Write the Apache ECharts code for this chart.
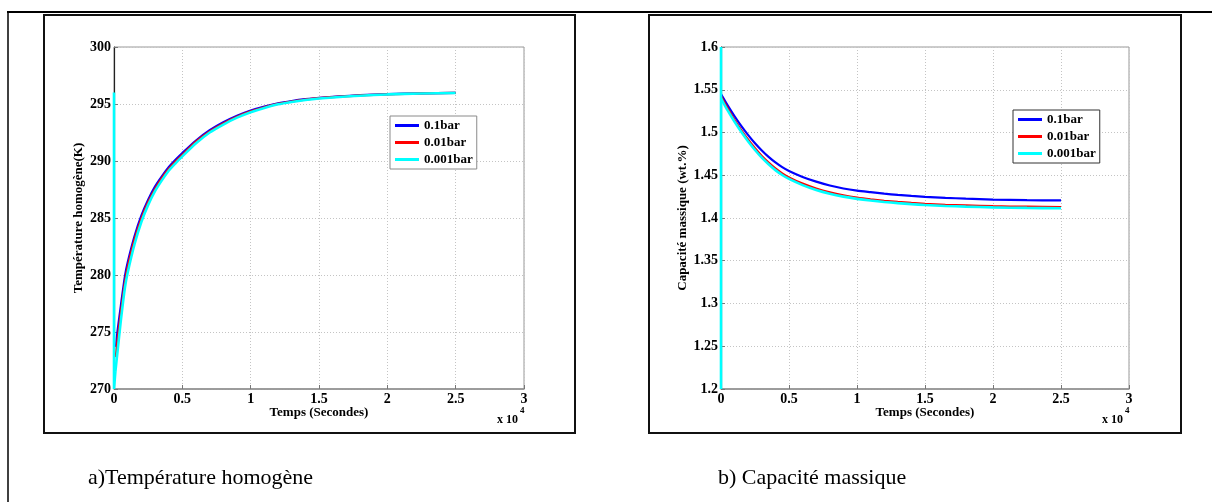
<!DOCTYPE html>
<html><head><meta charset="utf-8">
<script src="https://cdn.jsdelivr.net/npm/echarts@6/dist/echarts.min.js"></script>
<style>html,body{margin:0;padding:0;background:#fff}#c{width:1212px;height:502px}</style>
</head><body><div id="c"></div>
<script>
// ---------- data ----------
const seriesNames = ['0.1bar', '0.01bar', '0.001bar'];
const seriesColors = ['#0000ff', '#ff0000', '#00ffff'];
const xTickLabels = ['0', '0.5', '1', '1.5', '2', '2.5', '3'];          // x 10^4 s
const tempTickLabels = ['270', '275', '280', '285', '290', '295', '300'];
const capTickLabels = ['1.2', '1.25', '1.3', '1.35', '1.4', '1.45', '1.5', '1.55', '1.6'];

// Température homogène (K)
const tempTime01  = [150, 250, 500, 800, 1000, 1500, 2000, 2500, 3000, 3500, 4000, 4500, 5000, 6000, 7000, 8000, 9000, 10000, 11000, 12000, 13000, 14000, 15000, 16500, 18000, 20000, 22500, 25000];
const tempValue01 = [273.7, 275.0, 277.3, 279.9, 281.1, 283.4, 285.2, 286.6, 287.75, 288.65, 289.45, 290.1, 290.7, 291.8, 292.7, 293.4, 293.97, 294.43, 294.78, 295.06, 295.26, 295.42, 295.54, 295.67, 295.77, 295.87, 295.94, 295.98];
const tempTime001  = [130, 250, 500, 800, 1000, 1500, 2000, 2500, 3000, 3500, 4000, 4500, 5000, 6000, 7000, 8000, 9000, 10000, 11000, 12000, 13000, 14000, 15000, 16500, 18000, 20000, 22500, 25000];
const tempValue001 = [272.8, 274.2, 276.7, 279.4, 280.7, 283.1, 284.95, 286.4, 287.55, 288.5, 289.3, 289.95, 290.55, 291.7, 292.6, 293.3, 293.88, 294.35, 294.72, 295.01, 295.22, 295.38, 295.51, 295.64, 295.75, 295.85, 295.93, 295.97];
const tempTime0001  = [100, 250, 500, 800, 1000, 1500, 2000, 2500, 3000, 3500, 4000, 4500, 5000, 6000, 7000, 8000, 9000, 10000, 11000, 12000, 13000, 14000, 15000, 16500, 18000, 20000, 22500, 25000];
const tempValue0001 = [271.5, 273.2, 276.0, 278.9, 280.2, 282.7, 284.65, 286.15, 287.35, 288.3, 289.15, 289.8, 290.4, 291.55, 292.5, 293.2, 293.8, 294.28, 294.66, 294.97, 295.18, 295.35, 295.48, 295.62, 295.73, 295.84, 295.92, 295.96];
// initial jump of the 0.001bar run at t = 0
const tempJumpTime0001  = [0, 0, 100];
const tempJumpValue0001 = [296, 270, 271.5];

// Capacité massique (wt.%)
const capTime  = [0, 500, 1000, 1500, 2000, 2500, 3000, 3500, 4000, 4500, 5000, 6000, 7000, 8000, 9000, 10000, 11000, 12000, 13000, 14000, 15000, 16500, 18000, 20000, 22500, 25000];
const capValue01   = [1.545, 1.5315, 1.519, 1.5075, 1.497, 1.4875, 1.479, 1.4715, 1.465, 1.4595, 1.455, 1.448, 1.4425, 1.438, 1.4345, 1.432, 1.4302, 1.4285, 1.427, 1.4258, 1.4248, 1.4236, 1.4226, 1.4216, 1.4209, 1.4205];
const capValue001  = [1.5425, 1.528, 1.5145, 1.5025, 1.4915, 1.4815, 1.4725, 1.4648, 1.458, 1.4522, 1.4475, 1.4402, 1.4345, 1.43, 1.4265, 1.4238, 1.4218, 1.4202, 1.4188, 1.4176, 1.4166, 1.4155, 1.4147, 1.4138, 1.4132, 1.4128];
const capValue0001 = [1.540, 1.5255, 1.5125, 1.5005, 1.4895, 1.4795, 1.4705, 1.4628, 1.456, 1.4503, 1.4457, 1.4385, 1.4328, 1.4284, 1.425, 1.4224, 1.4204, 1.4188, 1.4174, 1.4162, 1.4152, 1.4141, 1.4133, 1.4124, 1.4118, 1.4114];
// initial jump of the 0.001bar run at t = 0
const capJumpTime0001  = [0, 0, 0];
const capJumpValue0001 = [1.6, 1.2, 1.540];

// ---------- chart ----------
const FONT = "'Liberation Serif','Times New Roman',serif";
const zip = (t, v) => t.map((x, i) => [x, v[i]]);
const chart = echarts.init(document.getElementById('c'), null, {renderer: 'canvas'});

function xAxisCfg(gi) {
  return {
    gridIndex: gi, type: 'value', min: 0, max: 30000, interval: 5000,
    name: 'Temps (Secondes)', nameLocation: 'middle', nameGap: 17, nameMoveOverlap: false,
    nameTextStyle: {fontFamily: FONT, fontWeight: 'bold', fontSize: 13, color: '#000'},
    axisLine: {show: true, onZero: false, lineStyle: {color: '#8c8c8c', width: 1.5}},
    axisTick: {show: true, inside: true, length: 4, lineStyle: {color: '#777'}},
    axisLabel: {margin: 3, fontFamily: FONT, fontWeight: 'bold', fontSize: 14, color: '#000',
      formatter: v => xTickLabels[Math.round(v / 5000)]},
    splitLine: {show: true, lineStyle: {color: '#c4c4c4', type: [1, 2], width: 1}}
  };
}
function yAxisCfg(gi, name, min, max, interval, labels, gap) {
  return {
    gridIndex: gi, type: 'value', min: min, max: max, interval: interval,
    name: name, nameLocation: 'middle', nameGap: gap, nameMoveOverlap: false,
    nameTextStyle: {fontFamily: FONT, fontWeight: 'bold', fontSize: 13, color: '#000'},
    axisLine: {show: true, onZero: false, lineStyle: {color: '#222', width: 1.2}},
    axisTick: {show: true, inside: true, length: 4, lineStyle: {color: '#777'}},
    axisLabel: {margin: 3, fontFamily: FONT, fontWeight: 'bold', fontSize: 14, color: '#000',
      formatter: v => labels[Math.round((v - min) / interval)]},
    splitLine: {show: true, lineStyle: {color: '#c4c4c4', type: [1, 2], width: 1}}
  };
}
function lineSeries(i, gi, data, smooth) {
  return {
    name: seriesNames[i], type: 'line', xAxisIndex: gi, yAxisIndex: gi,
    data: data, showSymbol: false, symbol: 'none', smooth: smooth,
    lineStyle: {color: seriesColors[i], width: i === 2 ? 2.6 : 2.2},
    itemStyle: {color: seriesColors[i]}, z: 2 + i, clip: true
  };
}
function legendCfg(left, top, border) {
  return {
    orient: 'vertical', left: left, top: top, data: seriesNames,
    icon: 'rect', itemWidth: 24, itemHeight: 3, itemGap: 4,
    padding: [3, 4, 3, 5], backgroundColor: '#fff', borderColor: border, borderWidth: 1,
    textStyle: {fontFamily: FONT, fontWeight: 'bold', fontSize: 13, color: '#000', lineHeight: 12},
    selectedMode: false
  };
}
function txt(x, y, s, size, bold) {
  return {type: 'text', x: x, y: y, silent: true,
    style: {text: s, font: (bold ? 'bold ' : '') + size + 'px ' + FONT, fill: '#000', textAlign: 'left', textVerticalAlign: 'middle'}};
}

const option = {
  animation: false,
  backgroundColor: '#fff',
  grid: [
    {left: 114, top: 47, width: 410, height: 342, show: true, borderColor: '#999', borderWidth: 1, backgroundColor: '#fff'},
    {left: 721, top: 47, width: 408, height: 342, show: true, borderColor: '#999', borderWidth: 1, backgroundColor: '#fff'}
  ],
  xAxis: [xAxisCfg(0), xAxisCfg(1)],
  yAxis: [
    yAxisCfg(0, 'Température homogène(K)', 270, 300, 5, tempTickLabels, 29),
    yAxisCfg(1, 'Capacité massique (wt.%)', 1.2, 1.6, 0.05, capTickLabels, 32)
  ],
  legend: [legendCfg(390, 116, '#8a8a8a'), legendCfg(1013, 110, '#333')],
  series: [
    lineSeries(0, 0, zip(tempTime01, tempValue01), 0.25),
    lineSeries(1, 0, zip(tempTime001, tempValue001), 0.25),
    lineSeries(2, 0, zip(tempJumpTime0001, tempJumpValue0001), false),
    lineSeries(2, 0, zip(tempTime0001, tempValue0001), 0.25),
    lineSeries(0, 1, zip(capTime, capValue01), 0.25),
    lineSeries(1, 1, zip(capTime, capValue001), 0.25),
    lineSeries(2, 1, zip(capJumpTime0001, capJumpValue0001), false),
    lineSeries(2, 1, zip(capTime, capValue0001), 0.25)
  ],
  graphic: [
    {type: 'line', silent: true, shape: {x1: 7, y1: 12, x2: 1212, y2: 12}, style: {stroke: '#000', lineWidth: 2}},
    {type: 'line', silent: true, shape: {x1: 8, y1: 12, x2: 8, y2: 502}, style: {stroke: '#000', lineWidth: 1.5}},
    {type: 'rect', silent: true, shape: {x: 44, y: 15, width: 531, height: 418}, style: {fill: 'none', stroke: '#111', lineWidth: 2}, z: -1},
    {type: 'rect', silent: true, shape: {x: 649, y: 15, width: 532, height: 418}, style: {fill: 'none', stroke: '#111', lineWidth: 2}, z: -1},
    txt(497, 420, 'x 10', 12, true),
    txt(520, 411, '4', 9, true),
    txt(1102, 420, 'x 10', 12, true),
    txt(1125, 411, '4', 9, true),
    txt(88, 478, 'a)Température homogène', 22, false),
    txt(718, 478, 'b) Capacité massique', 22, false)
  ]
};
chart.setOption(option);
</script></body></html>
